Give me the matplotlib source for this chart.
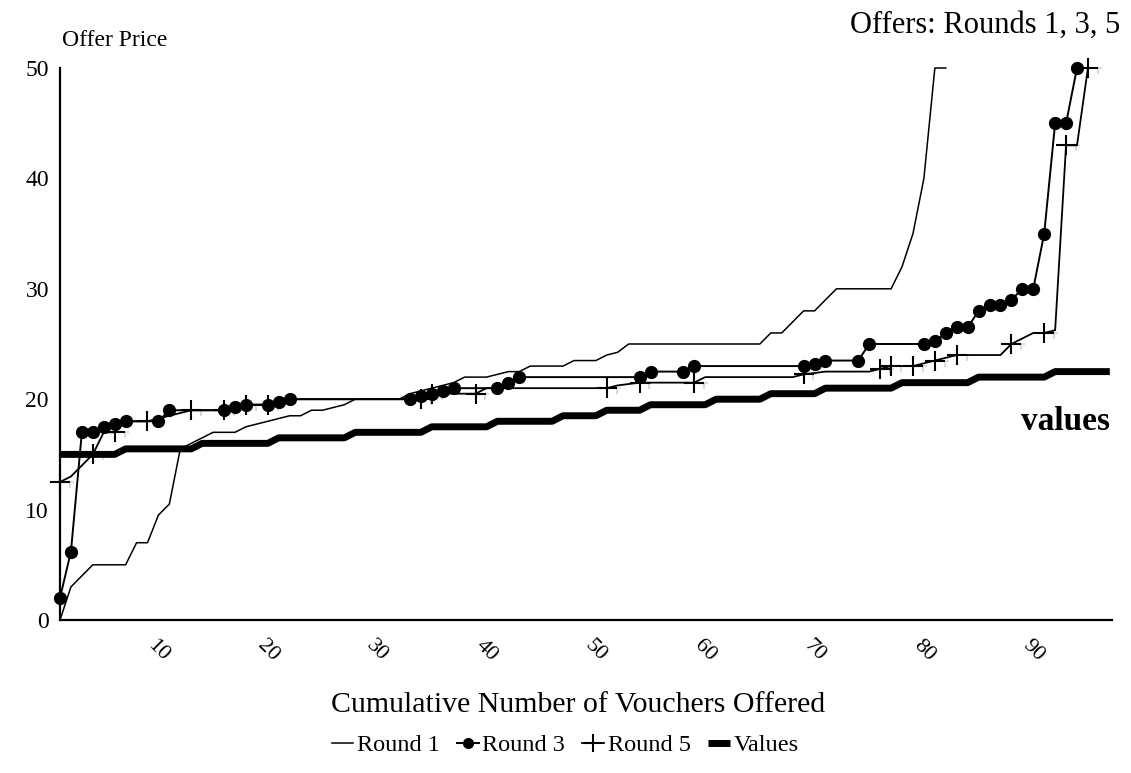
import numpy as np
import matplotlib
matplotlib.use('Agg')
import matplotlib.pyplot as plt
from matplotlib.lines import Line2D
from matplotlib.path import Path

plt.rcParams['font.family'] = ['Liberation Serif', 'DejaVu Serif']

# Round 1: one offer price per voucher, vouchers 1..82 (offers above 50 sit on the top edge)
round1 = [0, 3, 4, 5, 5, 5, 5, 7, 7, 9.5,
          10.5, 15.5, 16, 16.5, 17, 17, 17, 17.5, 17.75, 18,
          18.25, 18.5, 18.5, 19, 19, 19.25, 19.5, 20, 20, 20,
          20, 20, 20.5, 20.75, 21, 21.25, 21.5, 22, 22, 22,
          22.25, 22.5, 22.5, 23, 23, 23, 23, 23.5, 23.5, 23.5,
          24, 24.25, 25, 25, 25, 25, 25, 25, 25, 25,
          25, 25, 25, 25, 25, 26, 26, 27, 28, 28,
          29, 30, 30, 30, 30, 30, 30, 32, 35, 40,
          50, 50]

# Round 3: cumulative vouchers and offer price
round3_x = [1, 2, 3, 4, 5, 6, 7, 10, 11, 16, 17, 18, 20, 21, 22, 33, 34, 35, 36, 37,
            41, 42, 43, 54, 55, 58, 59, 69, 70, 71, 74, 75, 80, 81, 82, 83, 84, 85,
            86, 87, 88, 89, 90, 91, 92, 93, 94]
round3_y = [2, 6.2, 17, 17, 17.5, 17.75, 18, 18, 19, 19, 19.25, 19.5, 19.5, 19.75, 20, 20, 20.25, 20.5, 20.75, 21,
            21, 21.5, 22, 22, 22.5, 22.5, 23, 23, 23.2, 23.5, 23.5, 25, 25, 25.25, 26, 26.5, 26.5, 28,
            28.5, 28.5, 29, 30, 30, 35, 45, 45, 50]

# Round 5: line vertices, and the vertices that carry a cross marker
round5_x = [1, 2, 4, 5, 6, 7, 9, 11, 13, 16, 18, 20, 22, 33, 34, 35, 39, 40, 51, 52,
            54, 59, 60, 68, 69, 71, 75, 76, 77, 79, 81, 83, 87, 88, 90, 91, 92, 93, 94, 95]
round5_y = [12.5, 13, 15, 17, 17, 18, 18, 18.5, 19, 19, 19.5, 19.5, 20, 20, 20, 20.5, 20.5, 21, 21, 21.25,
            21.5, 21.5, 22, 22, 22.25, 22.5, 22.5, 22.75, 23, 23, 23.5, 24, 24, 25, 26, 26, 26.25, 43, 43, 50]
round5_cross = [1, 4, 6, 9, 13, 16, 18, 20, 34, 35, 39, 51, 54, 59, 69, 76, 77, 79, 81, 83, 88, 91, 93, 95]

# Values: step levels and how many vouchers sit at each level
value_levels = [15, 15.5, 16, 16.5, 17, 17.5, 18, 18.5, 19, 19.5, 20, 20.5, 21, 21.5, 22, 22.5]
value_counts = [6, 7, 7, 7, 7, 6, 6, 4, 4, 6, 5, 5, 7, 7, 7, 6]

x_ticks = [10, 20, 30, 40, 50, 60, 70, 80, 90]
y_ticks = [0, 10, 20, 30, 40, 50]

W, H = 1131, 773
fig = plt.figure(figsize=(W / 100, H / 100), dpi=100)
ax = fig.add_axes([60 / W, (H - 620) / H, 1052 / W, 552 / H])

values = np.repeat(value_levels, value_counts)
values_x = np.arange(1, len(values) + 1)
r1_x = np.arange(1, len(round1) + 1)

ax.plot(values_x, values, color='black', lw=5.0, solid_capstyle='butt', zorder=2, clip_on=False)
ax.plot(r1_x, round1, color='black', lw=1.1, zorder=3, clip_on=False)

# faint grey ghosts that sit next to the Round 5 crosses
r5x = np.array(round5_x)
r5y = np.array(round5_y)
mask = np.isin(r5x, round5_cross)
ghost = Path([(-1, 0), (1, 0), (0, 0), (0, -1.5)],
             [Path.MOVETO, Path.LINETO, Path.MOVETO, Path.LINETO])
ax.plot(r5x[mask] + 0.9, r5y[mask], ls='none', marker=ghost, ms=9, mew=1.2,
        mec='#d3d3d3', zorder=1, clip_on=False)

ax.plot(r5x, r5y, color='black', lw=1.3, zorder=4, clip_on=False)
ax.plot(r5x[mask], r5y[mask], ls='none', marker='+', ms=15, mew=1.5,
        color='black', zorder=5, clip_on=False)
ax.plot(round3_x, round3_y, color='black', lw=1.4, marker='o', ms=8.5,
        zorder=6, clip_on=False)

ax.set_xlim(1, 97.2)
ax.set_ylim(0, 50)
for side in ['top', 'right']:
    ax.spines[side].set_visible(False)
for side in ['left', 'bottom']:
    ax.spines[side].set_linewidth(1.6)

ax.set_yticks(y_ticks)
ax.set_yticklabels([str(v) for v in y_ticks], fontsize=17)
ax.set_xticks(x_ticks)
ax.set_xticklabels([str(v) for v in x_ticks], fontsize=16, rotation=-45,
                   ha='center', va='center', rotation_mode='anchor')
ax.tick_params(axis='y', length=0, pad=8)
ax.tick_params(axis='x', length=0, pad=22)

fig.text(62 / W, 1 - 40 / H, 'Offer Price', fontsize=17, ha='left', va='center')
fig.text(1120 / W, 1 - 25 / H, 'Offers: Rounds 1, 3, 5', fontsize=22, ha='right', va='center')
fig.text(1110 / W, 1 - 422 / H, 'values', fontsize=24, fontweight='bold', ha='right', va='center')
fig.text(578 / W, 1 - 705 / H, 'Cumulative Number of Vouchers Offered', fontsize=21.5,
         ha='center', va='center')

handles = [
    Line2D([], [], color='black', lw=1.1),
    Line2D([], [], color='black', lw=1.4, marker='o', ms=7),
    Line2D([], [], color='black', lw=1.3, marker='+', ms=13, mew=1.5),
    Line2D([], [], color='black', lw=5.0, solid_capstyle='butt'),
]
fig.legend(handles, ['Round 1', 'Round 3', 'Round 5', 'Values'], loc='center',
           bbox_to_anchor=(565 / W, 1 - 745 / H), ncol=4, frameon=False, fontsize=17.5,
           handlelength=0.9, handletextpad=0.15, columnspacing=0.7)

fig.savefig('out.png', dpi=100)
